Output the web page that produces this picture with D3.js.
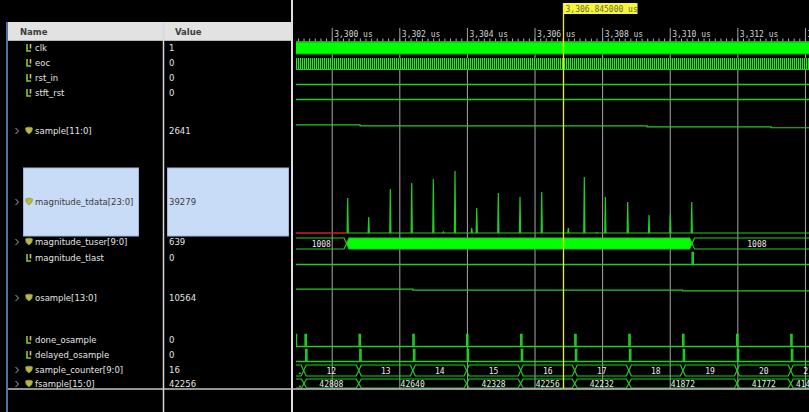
<!DOCTYPE html>
<html>
<head>
<meta charset="utf-8">
<script src="https://cdn.jsdelivr.net/npm/d3@7"></script>
<style>
  body { margin: 0; background: #000; }
  svg { display: block; }
  text { font-family: "DejaVu Sans", sans-serif; }
  .mono { font-family: "DejaVu Sans Mono", monospace; }
</style>
</head>
<body>
<svg id="wave" width="809" height="412"></svg>
<script>
// ---- signal list ----
const signalNames = ["clk", "eoc", "rst_in", "stft_rst", "sample[11:0]", "magnitude_tdata[23:0]",
  "magnitude_tuser[9:0]", "magnitude_tlast", "osample[13:0]", "done_osample", "delayed_osample",
  "sample_counter[9:0]", "fsample[15:0]"];
const signalValues = ["1", "0", "0", "0", "2641", "39279", "639", "0", "10564", "0", "0", "16", "42256"];
const signalIsBus = [false, false, false, false, true, true, true, false, true, false, false, true, true];

// ---- time ruler (us) ----
const timeWindow = [3298.914, 3314.12];
const majorTicks = [3300, 3302, 3304, 3306, 3308, 3310, 3312, 3314];
const tickLabels = ["3,300 us", "3,302 us", "3,304 us", "3,306 us", "3,308 us", "3,310 us", "3,312 us", "3,314 us"];
const cursorTime = 3306.845;
const cursorLabel = "3,306.845000 us";

// ---- analog: sample[11:0] ----
const sampleStepTimes = [3300.84, 3309.33, 3313.00];
const sampleStepValues = [2740, 2641, 2540, 2440];

// ---- analog: osample[13:0] ----
const osampleStepTimes = [3302.40, 3310.38];
const osampleStepValues = [10980, 10564, 10200];

// ---- analog: magnitude_tdata[23:0] ----
const tdataUnknownEnd = 3300.44;
const tdataSpikeTimes = [3300.473, 3301.095, 3301.734, 3302.367, 3303.006, 3303.302, 3303.648, 3304.142,
  3304.290, 3304.929, 3305.571, 3306.213, 3307.000, 3307.473, 3307.840, 3308.095, 3308.757, 3309.388,
  3310.018, 3310.651];
const tdataSpikePeaks = [35000, 16000, 44000, 50000, 54000, 1000, 62000, 5000,
  25000, 40000, 36000, 41000, 5000, 56000, 500, 36000, 31000, 18000,
  19000, 31000];

// ---- bus: magnitude_tuser[9:0] (null = changing every cycle) ----
const tuserTimes = [3300.44, 3310.66];
const tuserValues = ["1008", null, "1008"];
const tuserEnd = 3314.5;

// ---- single-bit pulses ----
const tlastPulses = [3310.66];
const doneOsampleStartHigh = 3298.96;
const doneOsamplePulses = [3299.21, 3300.81, 3302.40, 3303.99, 3305.59, 3307.19, 3308.79, 3310.38, 3311.98, 3313.58];
const delayedOsamplePulses = [3299.23, 3300.83, 3302.42, 3304.01, 3305.61, 3307.21, 3308.81, 3310.40, 3312.00, 3313.60];
const pulseWidth = 0.04;

// ---- bus: sample_counter[9:0] ----
const counterTimes = [3299.17, 3300.80, 3302.40, 3303.99, 3305.59, 3307.19, 3308.79, 3310.39, 3311.99, 3313.58];
const counterValues = ["11", "12", "13", "14", "15", "16", "17", "18", "19", "20", "21"];

// ---- bus: fsample[15:0] ----
const fsampleTimes = [3299.18, 3300.80, 3303.99, 3305.59, 3307.19, 3308.79, 3311.99, 3313.58];
const fsampleValues = ["42904", "42808", "42640", "42328", "42256", "42232", "41872", "41772", "41472"];
const busEnd = 3314.6;

// ---------------------------------------------------------------
const svg = d3.select("#wave");
const W = 809, H = 412;
const rowY = [48, 63, 78, 93, 131, 202, 242, 258, 298, 340, 355, 370, 384];
const waveLeft = 296, bottomY = 388.5;
const GREEN = "#22cc22", BRIGHT = "#00ff00";

const x = d3.scaleLinear().domain(timeWindow).range([295, 809]);
const level = cy => d3.scaleLinear().domain([0, 1]).range([cy + 6.5, cy - 5.5]);

// ---- name / value panel ----
const left = svg.append("g");
left.append("rect").attr("x", 8).attr("y", 22).attr("width", 284).attr("height", 19).attr("fill", "#e2e2e2");
left.append("line").attr("x1", 8).attr("x2", 292).attr("y1", 40.5).attr("y2", 40.5).attr("stroke", "#b8b8b8");
left.append("text").attr("x", 20).attr("y", 35).attr("font-size", 8.5).attr("font-weight", "bold").attr("fill", "#3c3c3c").text("Name");
left.append("text").attr("x", 175).attr("y", 35).attr("font-size", 8.5).attr("font-weight", "bold").attr("fill", "#3c3c3c").text("Value");

// selected row highlight
const selIdx = 5;
left.append("rect").attr("x", 23.5).attr("y", 168).attr("width", 115).attr("height", 68)
  .attr("fill", "#c8dcf8").attr("stroke", "#9db7dd");
left.append("rect").attr("x", 167.5).attr("y", 168).attr("width", 121).attr("height", 68)
  .attr("fill", "#c8dcf8").attr("stroke", "#9db7dd");

signalNames.forEach((name, i) => {
  const cy = rowY[i];
  const sel = i === selIdx;
  if (signalIsBus[i]) {
    left.append("path").attr("d", `M15.5,${cy - 3}L18.5,${cy}L15.5,${cy + 3}`)
      .attr("fill", "none").attr("stroke", "#b0b0b0").attr("stroke-width", 1);
    const g = left.append("g").attr("transform", `translate(25.5,${cy - 4})`);
    g.append("path").attr("d", "M0,1L3,0L3.5,1.2L4,0L7,1L6.3,4.5L3.5,7L0.7,4.5Z")
      .attr("fill", "#c8b43a").attr("stroke", "#7aa63a").attr("stroke-width", 0.8);
  } else {
    const g = left.append("g").attr("transform", `translate(26,${cy - 4})`);
    g.append("path").attr("d", "M1,0V7H5").attr("fill", "none").attr("stroke", "#86c83a").attr("stroke-width", 1.6);
    g.append("path").attr("d", "M4.5,0V4.5").attr("fill", "none").attr("stroke", "#d8c040").attr("stroke-width", 1.6);
  }
  left.append("text").attr("x", 35).attr("y", cy + 3).attr("font-size", 8.5)
    .attr("fill", sel ? "#3a3a3a" : "#e4e4e4").text(name);
  left.append("text").attr("x", 169).attr("y", cy + 3).attr("font-size", 8.5)
    .attr("fill", sel ? "#3a3a3a" : "#e4e4e4").text(signalValues[i]);
});

// panel dividers
left.append("line").attr("x1", 7).attr("x2", 7).attr("y1", 22).attr("y2", H).attr("stroke", "#6c98d8").attr("stroke-width", 1.5);
left.append("line").attr("x1", 163.5).attr("x2", 163.5).attr("y1", 22).attr("y2", H).attr("stroke", "#d8d8d8").attr("stroke-width", 1.5);
left.append("line").attr("x1", 292).attr("x2", 292).attr("y1", 0).attr("y2", H).attr("stroke", "#e0e0e0").attr("stroke-width", 2);

// ---- waveform panel ----
svg.append("clipPath").attr("id", "clip").append("rect")
  .attr("x", waveLeft).attr("y", 0).attr("width", W - waveLeft).attr("height", H);
const wave = svg.append("g").attr("clip-path", "url(#clip)");

// ruler: minor ticks
const minorTicks = d3.range(Math.ceil(timeWindow[0] * 6), Math.floor(timeWindow[1] * 6) + 1).map(k => k / 6);
const minorAxis = d3.axisTop(x).tickValues(minorTicks).tickSize(3).tickFormat("");
const minorG = wave.append("g").attr("transform", "translate(0,41.5)").call(minorAxis);
minorG.select(".domain").attr("stroke", "#707070").attr("d", `M${waveLeft},0H${W}`);
minorG.selectAll(".tick line").attr("stroke", "#b0b0b0");

// ruler: major ticks that continue down as grid lines
const majorAxis = d3.axisBottom(x).tickValues(majorTicks).tickSize(bottomY - 28)
  .tickFormat((d, i) => tickLabels[i]);
const majorG = wave.append("g").attr("transform", "translate(0,28)").call(majorAxis);
majorG.select(".domain").remove();
majorG.selectAll(".tick line").attr("stroke", "#a8a8a8");
majorG.selectAll(".tick text").attr("class", "mono").attr("y", 8.5).attr("x", 2).attr("dy", 0)
  .attr("text-anchor", "start").attr("font-size", 8).attr("fill", "#d4d4d4");

const xs = x(timeWindow[0]) - 5, xe = x(timeWindow[1]) + 5;

// clk: too dense to resolve, drawn as a solid band
(() => {
  const y = level(rowY[0]);
  wave.append("rect").attr("x", xs).attr("y", y(1) - 0.5).attr("width", xe - xs).attr("height", y(0) - y(1))
    .attr("fill", BRIGHT).attr("stroke", "#00b400").attr("stroke-width", 1);
})();

// eoc: fast strobe drawn as a fine comb of pixel-aligned lines
(() => {
  const y = level(rowY[1]);
  const pat = svg.append("defs").append("pattern").attr("id", "comb")
    .attr("patternUnits", "userSpaceOnUse").attr("width", 2).attr("height", 40).attr("x", 0).attr("y", 0);
  pat.append("rect").attr("x", 0).attr("y", 0).attr("width", 1).attr("height", 40).attr("fill", "#2ee82e");
  pat.append("rect").attr("x", 1).attr("y", 0).attr("width", 1).attr("height", 40).attr("fill", "#062806");
  wave.append("rect").attr("x", Math.floor(xs)).attr("y", Math.round(y(1))).attr("width", Math.ceil(xe - xs))
    .attr("height", Math.round(y(0) - y(1))).attr("fill", "url(#comb)").attr("shape-rendering", "crispEdges");
  wave.append("line").attr("x1", xs).attr("x2", xe).attr("y1", y(0)).attr("y2", y(0)).attr("stroke", GREEN);
})();

// single-bit waveform from an initial level and a list of edge times
function bitPath(cy, initial, edges) {
  const y = level(cy);
  let lv = initial;
  let d = `M${xs},${y(lv)}`;
  edges.forEach(t => {
    d += `H${x(t)}`;
    lv = 1 - lv;
    d += `V${y(lv)}`;
  });
  d += `H${xe}`;
  wave.append("path").attr("d", d).attr("fill", "none").attr("stroke", GREEN).attr("stroke-width", 1.3);
}
const pulsesToEdges = p => p.flatMap(t => [t, t + pulseWidth]);

bitPath(rowY[2], 0, []);
bitPath(rowY[3], 0, []);
bitPath(rowY[7], 0, pulsesToEdges(tlastPulses));
bitPath(rowY[9], 1, [doneOsampleStartHigh, ...pulsesToEdges(doneOsamplePulses)]);
bitPath(rowY[10], 0, pulsesToEdges(delayedOsamplePulses));

// analog step traces
function stepTrace(times, values, yScale) {
  const pts = [[timeWindow[0] - 1, values[0]]];
  times.forEach((t, i) => pts.push([t, values[i + 1]]));
  pts.push([timeWindow[1] + 1, values[values.length - 1]]);
  const line = d3.line().x(d => x(d[0])).y(d => yScale(d[1])).curve(d3.curveStepAfter);
  wave.append("path").attr("d", line(pts)).attr("fill", "none").attr("stroke", GREEN).attr("stroke-width", 1.2);
}
stepTrace(sampleStepTimes, sampleStepValues, d3.scaleLinear().domain([0, 4095]).range([151, 112]));
stepTrace(osampleStepTimes, osampleStepValues, d3.scaleLinear().domain([0, 16383]).range([312, 278]));

// magnitude_tdata: undefined before first output, then spikes
(() => {
  const yT = d3.scaleLinear().domain([0, 65000]).range([233, 168]);
  wave.append("line").attr("x1", xs).attr("x2", x(tdataUnknownEnd)).attr("y1", yT(0)).attr("y2", yT(0))
    .attr("stroke", "#d42020").attr("stroke-width", 1.3);
  const pts = [[tdataUnknownEnd, 0]];
  tdataSpikeTimes.forEach((t, i) => {
    pts.push([t - 0.018, 0], [t, tdataSpikePeaks[i]], [t + 0.018, 0]);
  });
  pts.push([timeWindow[1] + 1, 0]);
  const line = d3.line().x(d => x(d[0])).y(d => yT(d[1]));
  wave.append("path").attr("d", line(pts)).attr("fill", "none").attr("stroke", GREEN).attr("stroke-width", 1.2);
})();

// bus waveform
function hexPath(x0, x1, top, bot) {
  const m = (top + bot) / 2, e = Math.min(2.5, (x1 - x0) / 2);
  return `M${x0},${m}L${x0 + e},${top}L${x1 - e},${top}L${x1},${m}L${x1 - e},${bot}L${x0 + e},${bot}Z`;
}
function drawBus(times, values, top, bot, endTime) {
  const bounds = [timeWindow[0] - 0.1, ...times, endTime];
  values.forEach((v, i) => {
    const x0 = x(bounds[i]), x1 = x(bounds[i + 1]);
    const dense = v === null;
    wave.append("path").attr("d", hexPath(x0, x1, top, bot))
      .attr("fill", dense ? BRIGHT : "none").attr("stroke", GREEN).attr("stroke-width", 1.2);
    if (dense) return;
    const a = Math.max(x0, waveLeft), w = x1 - a;
    const tw = v.length * 4.8;
    const label = tw + 5 <= w ? v : ".";
    wave.append("text").attr("class", "mono").attr("x", (a + x1) / 2).attr("y", (top + bot) / 2 + 3)
      .attr("text-anchor", "middle").attr("font-size", 8).attr("fill", "#ececec").text(label);
  });
}
drawBus(tuserTimes, tuserValues, 238, 249, tuserEnd);
drawBus(counterTimes, counterValues, 365, 376, busEnd);
drawBus(fsampleTimes, fsampleValues, 379, 388, busEnd);

// bottom border
svg.append("line").attr("x1", 8).attr("x2", W).attr("y1", bottomY + 0.5).attr("y2", bottomY + 0.5)
  .attr("stroke", "#c4c4c4").attr("stroke-width", 1.5);

// time cursor
const cx = Math.round(x(cursorTime)) + 0.5;
wave.append("line").attr("x1", cx).attr("x2", cx).attr("y1", 3).attr("y2", bottomY)
  .attr("stroke", "#f4f400").attr("stroke-width", 1.3);
wave.append("rect").attr("x", cx).attr("y", 3).attr("width", 74).attr("height", 11).attr("fill", "#f6f63a");
wave.append("text").attr("class", "mono").attr("x", cx + 2).attr("y", 11.5).attr("font-size", 8)
  .attr("fill", "#6a6a3a").text(cursorLabel);
</script>
</body>
</html>
